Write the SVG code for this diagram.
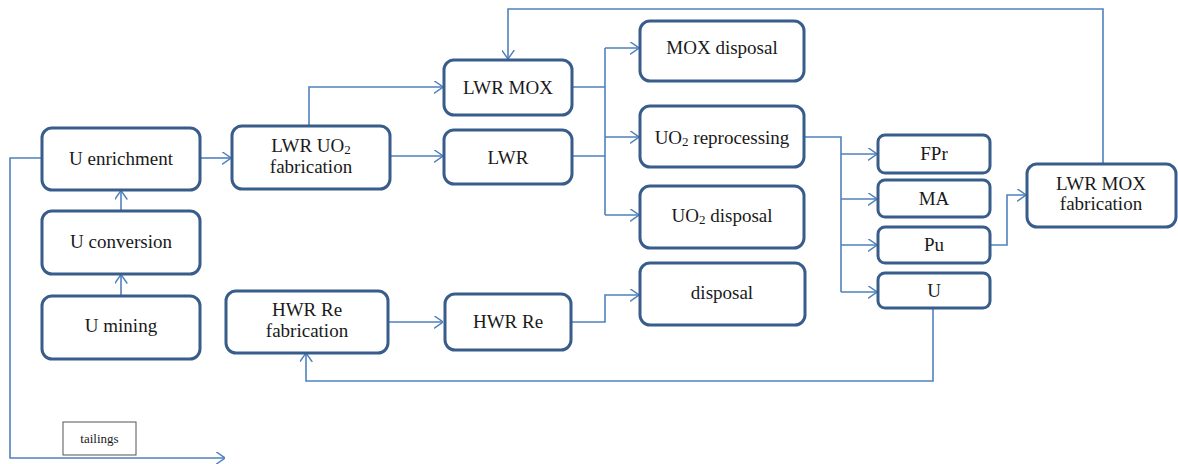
<svg xmlns="http://www.w3.org/2000/svg" width="1178" height="464" viewBox="0 0 1178 464">
<style>
.n{fill:#fff;stroke:#385d8a;stroke-width:3}
.t{font-family:"Liberation Serif",serif;font-size:19px;fill:#1a1a1a;text-anchor:middle}
.c{fill:none;stroke:#4f81bd;stroke-width:1.6}
.s{font-size:13px}
</style>
<defs>
<marker id="a" viewBox="0 0 10 14" refX="10" refY="7" markerWidth="9" markerHeight="13" markerUnits="userSpaceOnUse" orient="auto">
<path d="M0,0 L10,7 L0,14" fill="none" stroke="#4f81bd" stroke-width="1.6"/>
</marker>
</defs>
<rect width="1178" height="464" fill="#fff"/>
<g id="connectors" class="c">
<path class="c" d="M42,158 H10 V458 H225" marker-end="url(#a)"/>
<path class="c" d="M121,296 V274.5" marker-end="url(#a)"/>
<path class="c" d="M121,211 V190.5" marker-end="url(#a)"/>
<path class="c" d="M200,158 H231" marker-end="url(#a)"/>
<path class="c" d="M390,156 H443" marker-end="url(#a)"/>
<path class="c" d="M309,126 V87 H443" marker-end="url(#a)"/>
<path class="c" d="M572,87 H605"/>
<path class="c" d="M572,156 H605"/>
<path class="c" d="M605,48 V215"/>
<path class="c" d="M605,48 H639" marker-end="url(#a)"/>
<path class="c" d="M605,137 H639" marker-end="url(#a)"/>
<path class="c" d="M605,215 H639" marker-end="url(#a)"/>
<path class="c" d="M804,137 H841 V292"/>
<path class="c" d="M841,154 H877" marker-end="url(#a)"/>
<path class="c" d="M841,199 H877" marker-end="url(#a)"/>
<path class="c" d="M841,245 H877" marker-end="url(#a)"/>
<path class="c" d="M841,292 H877" marker-end="url(#a)"/>
<path class="c" d="M990,245 H1007 V195 H1026" marker-end="url(#a)"/>
<path class="c" d="M1103,164 V9 H508 V59" marker-end="url(#a)"/>
<path class="c" d="M933,308 V381 H306 V353" marker-end="url(#a)"/>
<path class="c" d="M388,322 H443" marker-end="url(#a)"/>
<path class="c" d="M571,322 H605 V295 H639" marker-end="url(#a)"/>
</g>
<g id="u-enrichment"><rect class="n" x="42" y="128" width="158" height="62" rx="10"/><text class="t" x="121" y="165">U enrichment</text></g>
<g id="u-conversion"><rect class="n" x="42" y="211" width="158" height="63" rx="10"/><text class="t" x="121" y="248">U conversion</text></g>
<g id="u-mining"><rect class="n" x="42" y="296" width="158" height="63" rx="10"/><text class="t" x="121" y="332">U mining</text></g>
<g id="lwr-uo2-fab"><rect class="n" x="232" y="126" width="158" height="63" rx="10"/><text class="t" x="311" y="152">LWR UO<tspan class="s" dy="2">2</tspan></text><text class="t" x="311" y="173">fabrication</text></g>
<g id="lwr-mox"><rect class="n" x="444" y="60" width="128" height="55" rx="10"/><text class="t" x="508" y="94">LWR MOX</text></g>
<g id="lwr"><rect class="n" x="444" y="130" width="128" height="54" rx="10"/><text class="t" x="508" y="164">LWR</text></g>
<g id="mox-disposal"><rect class="n" x="640" y="21" width="164" height="60" rx="10"/><text class="t" x="722" y="54">MOX disposal</text></g>
<g id="uo2-reprocessing"><rect class="n" x="640" y="106" width="164" height="61" rx="10"/><text class="t" x="722" y="144">UO<tspan class="s" dy="2">2</tspan><tspan dy="-2"> reprocessing</tspan></text></g>
<g id="uo2-disposal"><rect class="n" x="640" y="186" width="164" height="62" rx="10"/><text class="t" x="722" y="222">UO<tspan class="s" dy="2">2</tspan><tspan dy="-2"> disposal</tspan></text></g>
<g id="disposal"><rect class="n" x="640" y="263" width="165" height="62" rx="10"/><text class="t" x="722" y="299">disposal</text></g>
<g id="fpr"><rect class="n" x="878" y="135" width="112" height="38" rx="7"/><text class="t" x="934" y="160">FPr</text></g>
<g id="ma"><rect class="n" x="878" y="180" width="112" height="37" rx="7"/><text class="t" x="934" y="205">MA</text></g>
<g id="pu"><rect class="n" x="878" y="227" width="112" height="36" rx="7"/><text class="t" x="934" y="251">Pu</text></g>
<g id="u"><rect class="n" x="878" y="273" width="112" height="35" rx="7"/><text class="t" x="934" y="297">U</text></g>
<g id="lwr-mox-fab"><rect class="n" x="1027" y="164" width="149" height="63" rx="10"/><text class="t" x="1101" y="190">LWR MOX</text><text class="t" x="1101" y="210">fabrication</text></g>
<g id="hwr-re-fab"><rect class="n" x="226" y="291" width="162" height="62" rx="10"/><text class="t" x="307" y="316">HWR Re</text><text class="t" x="307" y="337">fabrication</text></g>
<g id="hwr-re"><rect class="n" x="445" y="294" width="126" height="56" rx="10"/><text class="t" x="508" y="328">HWR Re</text></g>
<g id="tailings"><rect x="63" y="422" width="73" height="33" fill="#fff" stroke="#555" stroke-width="1"/><text class="t" x="99.5" y="443" style="font-size:13px">tailings</text></g>
</svg>
